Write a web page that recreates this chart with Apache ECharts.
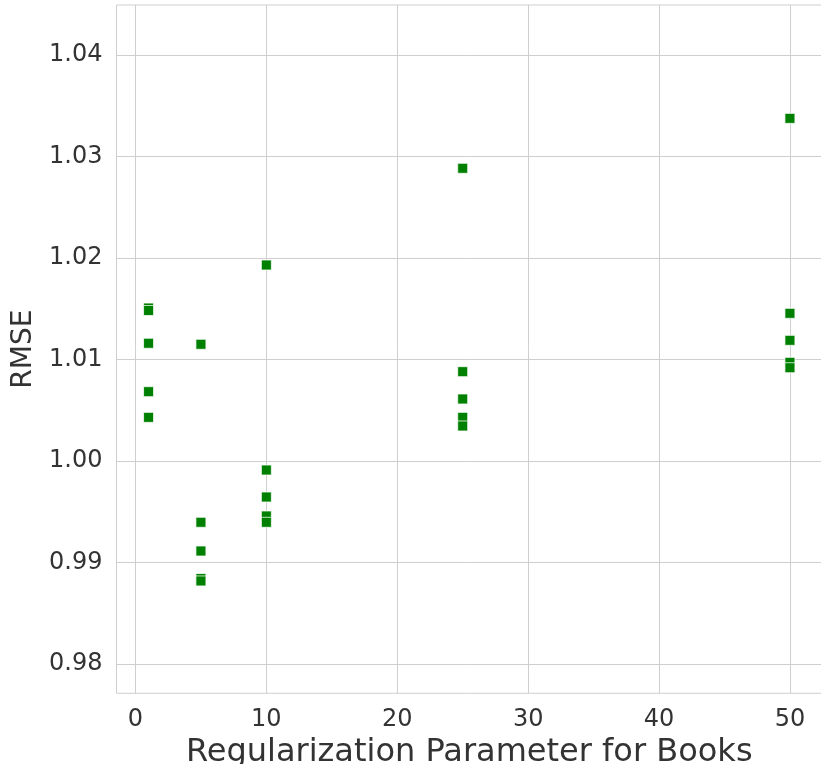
<!DOCTYPE html>
<html lang="en">

<head>
    <meta charset="UTF-8">
    <title>RMSE vs Regularization Parameter for Books</title>
    <script src="https://cdn.jsdelivr.net/npm/echarts@6/dist/echarts.min.js"></script>
    <style>
        html, body {
            margin: 0;
            padding: 0;
            background: #fff;
        }

        #chart {
            width: 821px;
            height: 764px;
        }
    </style>
</head>

<body>
    <div id="chart"></div>
    <script>
        // regularization values on the x axis
        var regParams = [1, 5, 10, 25, 50];
        // RMSE values, one list per regularization value
        var rmseReg1 = [1.01507, 1.01483, 1.0116, 1.00683, 1.0043];
        var rmseReg5 = [1.0115, 0.99396, 0.99113, 0.98842, 0.98818];
        var rmseReg10 = [1.01931, 0.99911, 0.99645, 0.99458, 0.99396];
        var rmseReg25 = [1.02884, 1.0088, 1.00611, 1.0043, 1.00345];
        var rmseReg50 = [1.03376, 1.01455, 1.01189, 1.00972, 1.00919];
        var xTicks = [0, 10, 20, 30, 40, 50];
        var yTicks = [0.98, 0.99, 1.00, 1.01, 1.02, 1.03, 1.04];

        var rmseLists = [rmseReg1, rmseReg5, rmseReg10, rmseReg25, rmseReg50];
        var points = [];
        regParams.forEach(function (p, i) {
            rmseLists[i].forEach(function (v) {
                points.push([p, v]);
            });
        });

        var textColor = '#333';
        var gridColor = '#cfcfcf';
        var fontName = 'DejaVu Sans';

        var myChart = echarts.init(document.getElementById('chart'));
        var option = {
            animation: false,
            backgroundColor: '#fff',
            grid: {
                left: 116.5,
                top: 5,
                right: -1,
                bottom: 70.7,
                show: true,
                borderColor: gridColor,
                borderWidth: 1,
                containLabel: false,
                outerBoundsMode: 'none'
            },
            xAxis: {
                type: 'value',
                min: -1.45,
                max: 52.45,
                name: 'Regularization Parameter for Books',
                nameLocation: 'middle',
                nameGap: 35,
                nameTextStyle: { fontFamily: fontName, fontSize: 32, color: textColor },
                axisLine: { show: false },
                axisTick: { show: false, customValues: xTicks },
                axisLabel: {
                    customValues: xTicks,
                    fontFamily: fontName,
                    fontSize: 24,
                    color: textColor,
                    margin: 14
                },
                splitLine: { show: true, lineStyle: { color: gridColor, width: 1 } }
            },
            yAxis: {
                type: 'value',
                min: 0.97711,
                max: 1.04493,
                name: 'RMSE',
                nameLocation: 'middle',
                nameGap: 77,
                nameTextStyle: { fontFamily: fontName, fontSize: 28, color: textColor },
                axisLine: { show: false },
                axisTick: { show: false, customValues: yTicks },
                axisLabel: {
                    customValues: yTicks,
                    fontFamily: fontName,
                    fontSize: 24,
                    color: textColor,
                    margin: 14,
                    formatter: function (v) { return v.toFixed(2); }
                },
                splitLine: { show: true, lineStyle: { color: gridColor, width: 1 } }
            },
            series: [{
                type: 'scatter',
                symbol: 'rect',
                symbolSize: 10,
                data: points,
                itemStyle: {
                    color: '#008000',
                    opacity: 1,
                    borderColor: 'rgba(255,255,255,0.75)',
                    borderWidth: 1
                }
            }]
        };
        myChart.setOption(option);
    </script>
</body>

</html>
